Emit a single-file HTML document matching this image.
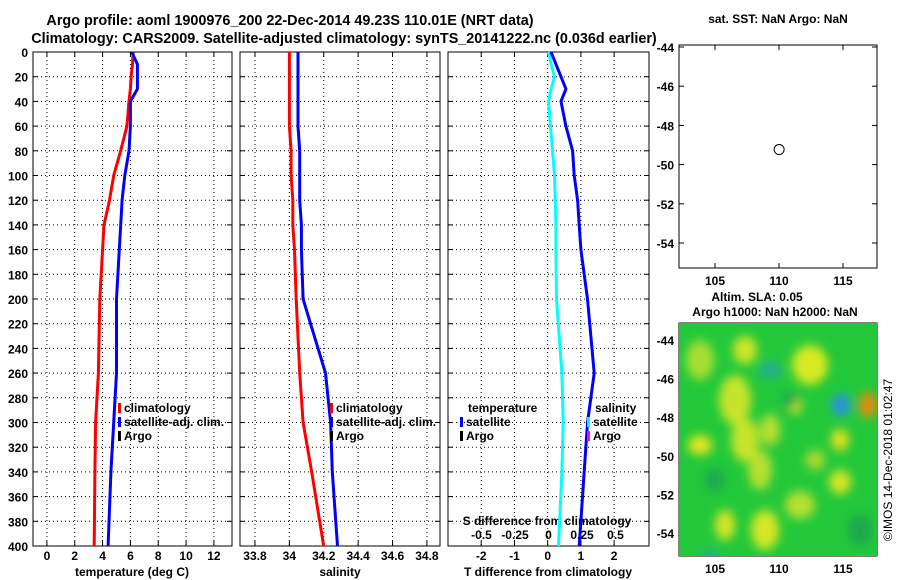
<!DOCTYPE html>
<html><head><meta charset="utf-8"><style>
body{margin:0;background:#fff}
svg{display:block;font-family:"Liberation Sans",sans-serif;font-weight:bold}
</style></head><body>
<svg id="c" width="900" height="580" viewBox="0 0 900 580">
<defs><filter id="bl" x="-50%" y="-50%" width="200%" height="200%"><feGaussianBlur stdDeviation="5"/></filter>
<clipPath id="mapclip"><rect x="679" y="323" width="198" height="233"/></clipPath></defs>
<text x="290" y="25" font-size="14.4" text-anchor="middle">Argo profile: aoml 1900976_200 22-Dec-2014 49.23S 110.01E (NRT data)</text>
<text x="344" y="43" font-size="14.4" text-anchor="middle">Climatology: CARS2009. Satellite-adjusted climatology: synTS_20141222.nc (0.036d earlier)</text>
<g id="g"></g>
<g clip-path="url(#mapclip)">
<rect x="679" y="323" width="198" height="233" fill="#22c83a"/>
<g filter="url(#bl)">
<ellipse cx="700" cy="360" rx="14" ry="20" fill="#a8de30"/>
<ellipse cx="745" cy="350" rx="12" ry="14" fill="#d0e628"/>
<ellipse cx="735" cy="400" rx="16" ry="25" fill="#c8e42a"/>
<ellipse cx="745" cy="440" rx="14" ry="22" fill="#c8e42a"/>
<ellipse cx="700" cy="445" rx="12" ry="10" fill="#e6e620"/>
<ellipse cx="770" cy="430" rx="10" ry="16" fill="#b8e030"/>
<ellipse cx="760" cy="470" rx="12" ry="20" fill="#b8e030"/>
<ellipse cx="810" cy="365" rx="18" ry="20" fill="#d8ea20"/>
<ellipse cx="795" cy="405" rx="7" ry="9" fill="#e0e020"/>
<ellipse cx="840" cy="440" rx="9" ry="11" fill="#e6e020"/>
<ellipse cx="840" cy="482" rx="11" ry="12" fill="#d8e628"/>
<ellipse cx="815" cy="460" rx="10" ry="10" fill="#a8dc30"/>
<ellipse cx="800" cy="505" rx="15" ry="14" fill="#b8e030"/>
<ellipse cx="765" cy="530" rx="14" ry="20" fill="#d8e628"/>
<ellipse cx="725" cy="525" rx="10" ry="15" fill="#d8e628"/>
<ellipse cx="770" cy="370" rx="12" ry="9" fill="#22b08a"/>
<ellipse cx="841" cy="405" rx="9" ry="11" fill="#2a90e8"/>
<ellipse cx="868" cy="405" rx="9" ry="13" fill="#e88a10"/>
<ellipse cx="710" cy="556" rx="9" ry="6" fill="#22b08a"/>
<ellipse cx="715" cy="480" rx="10" ry="12" fill="#1aa850"/>
<ellipse cx="860" cy="530" rx="12" ry="16" fill="#1aa850"/>
<ellipse cx="790" cy="400" rx="8" ry="8" fill="#1aa850"/>
</g></g>
<text x="778" y="23" font-size="12" text-anchor="middle">sat. SST: NaN Argo: NaN</text>
<text x="757" y="301" font-size="12" text-anchor="middle">Altim. SLA: 0.05</text>
<text x="775" y="316" font-size="12" text-anchor="middle">Argo h1000: NaN h2000: NaN</text>
<text transform="translate(892,460) rotate(-90)" font-size="12" font-weight="normal" text-anchor="middle">©IMOS 14-Dec-2018 01:02:47</text>
</svg>
<script>
const depths=[0,10,20,30,40,60,80,100,120,140,160,200,260,300,340,400];
const tClim=[6.2,6.15,6.05,6.0,5.9,5.75,5.3,4.8,4.5,4.1,4.0,3.8,3.7,3.5,3.45,3.4];
const tSat=[6.1,6.5,6.5,6.5,6.0,6.0,5.9,5.6,5.4,5.3,5.2,5.0,5.0,4.8,4.6,4.4];
const sClim=[34.0,34.0,34.0,34.0,34.0,34.0,34.01,34.01,34.02,34.02,34.03,34.04,34.06,34.08,34.13,34.2];
const sSat=[34.05,34.05,34.05,34.05,34.05,34.05,34.06,34.06,34.06,34.07,34.07,34.08,34.21,34.24,34.25,34.28];
const dT=[0.1,0.25,0.4,0.55,0.4,0.55,0.75,0.8,0.9,0.95,1.0,1.2,1.4,1.2,1.1,0.95];
const dS=[0,0.02,0.045,0.02,0,0.015,0.03,0.045,0.05,0.055,0.055,0.06,0.1,0.11,0.1,0.075];
const depthTicks=[0,20,40,60,80,100,120,140,160,180,200,220,240,260,280,300,320,340,360,380,400];
const tTicks=[0,2,4,6,8,10,12];
const sTicks=["33.8","34","34.2","34.4","34.6","34.8"];
const dTTicks=[-2,-1,0,1,2];
const dSTicks=["-0.5","-0.25","0","0.25","0.5"];
const lonTicks=[105,110,115];
const latTicks=[-44,-46,-48,-50,-52,-54];
const argoLon=110.01, argoLat=-49.23;

const NS='http://www.w3.org/2000/svg', G=document.getElementById('g');
function el(t,a,txt){const e=document.createElementNS(NS,t);for(const k in a)e.setAttribute(k,a[k]);if(txt!==undefined)e.textContent=txt;G.appendChild(e);return e;}
const Y0=52,Y1=546;
const yD=d=>Y0+(d/400)*(Y1-Y0);
function lin(d0,d1,r0,r1){return v=>r0+(v-d0)/(d1-d0)*(r1-r0);}
const panels=[
 {x0:33,x1:232,f:lin(-1,13.3,33,232)},
 {x0:240,x1:440,f:lin(33.713,34.876,240,440)},
 {x0:448,x1:649,f:lin(-3,3.05,448,649)}];
const fS3=lin(-0.75,0.75,448,649);
panels.forEach((p,i)=>{
 const fr=el('rect',{x:p.x0,y:Y0,width:p.x1-p.x0,height:Y1-Y0,fill:'none',stroke:'#000','stroke-width':1});
 
 depthTicks.forEach(d=>{
  const y=yD(d);
  const gl=el('line',{x1:p.x0,x2:p.x1,y1:y,y2:y,stroke:'#000','stroke-dasharray':'1,3'});
  
  el('line',{x1:p.x0,x2:p.x0+5,y1:y,y2:y,stroke:'#000'});
  el('line',{x1:p.x1-5,x2:p.x1,y1:y,y2:y,stroke:'#000'});
  if(i===0){const t=el('text',{x:28,y:y+5,'font-size':12,'text-anchor':'end'},d);
   }
 });
});
function vgrid(p,ticks,f,labelY){ticks.forEach(v=>{const x=f(+v);
 const gl=el('line',{x1:x,x2:x,y1:Y0,y2:Y1,stroke:'#000','stroke-dasharray':'1,3'});
 
 el('line',{x1:x,x2:x,y1:Y1-5,y2:Y1,stroke:'#000'});el('line',{x1:x,x2:x,y1:Y0,y2:Y0+5,stroke:'#000'});
 const t=el('text',{x:x,y:labelY,'font-size':12,'text-anchor':'middle'},v);
 });}
vgrid(panels[0],tTicks,panels[0].f,560);
vgrid(panels[1],sTicks,panels[1].f,560);
vgrid(panels[2],dTTicks,panels[2].f,560);
dSTicks.forEach(v=>{const t=el('text',{x:fS3(+v),y:539,'font-size':12,'text-anchor':'middle'},v);
 });
[['temperature (deg C)',132],['salinity',340],['T difference from climatology',548]].forEach(([s,x])=>{
 const t=el('text',{x:x,y:576,'font-size':12,'text-anchor':'middle'},s);
 });
const st=el('text',{x:547,y:525,'font-size':12,'text-anchor':'middle'},'S difference from climatology');

function line(vals,f,col,name){const pts=vals.map((v,k)=>f(v).toFixed(1)+','+yD(depths[k]).toFixed(1)).join(' ');
 const l=el('polyline',{points:pts,fill:'none',stroke:col,'stroke-width':3});
 }
line(tClim,panels[0].f,'#f00','temp-climatology-line');
line(tSat,panels[0].f,'#00f','temp-satellite-line');
line(sClim,panels[1].f,'#f00','sal-climatology-line');
line(sSat,panels[1].f,'#00f','sal-satellite-line');
line(dS,fS3,'#0ff','sal-diff-line');
line(dT,panels[2].f,'#00f','temp-diff-line');
function leg(x,y,col,txt){const r=el('rect',{x:x,y:y-9,width:3,height:10,fill:col});
 
 const t=el('text',{x:x+6,y:y,'font-size':12},txt);}
[[118,'#f00','climatology'],[118,'#00f','satellite-adj. clim.'],[118,'#000','Argo']].forEach((a,k)=>leg(a[0],412+k*14,a[1],a[2]));
[[330,'#f00','climatology'],[330,'#00f','satellite-adj. clim.'],[330,'#000','Argo']].forEach((a,k)=>leg(a[0],412+k*14,a[1],a[2]));
const tl=el('text',{x:468,y:412,'font-size':12},'temperature');
leg(460,426,'#00f','satellite');leg(460,440,'#000','Argo');
const sl=el('text',{x:595,y:412,'font-size':12},'salinity');
leg(587,426,'#0ff','satellite');leg(587,440,'#f0f','Argo');
const maps=[{y0:45,y1:268,fy:lin(-44,-54,47,243)},{y0:323,y1:556,fy:lin(-44,-54,340,533)}];
const fx=lin(105,115,715,843);
maps.forEach((m,i)=>{
 const fr=el('rect',{x:679,y:m.y0,width:198,height:m.y1-m.y0,fill:'none',stroke:'#000'});
 
 lonTicks.forEach(v=>{const x=fx(v);el('line',{x1:x,x2:x,y1:m.y1-5,y2:m.y1,stroke:'#000'});el('line',{x1:x,x2:x,y1:m.y0,y2:m.y0+5,stroke:'#000'});
  const t=el('text',{x:x,y:m.y1+17,'font-size':12,'text-anchor':'middle'},v);});
 latTicks.forEach(v=>{const y=m.fy(v);el('line',{x1:679,x2:684,y1:y,y2:y,stroke:'#000'});el('line',{x1:872,x2:877,y1:y,y2:y,stroke:'#000'});
  const t=el('text',{x:674,y:y+5,'font-size':12,'text-anchor':'end'},v);});
 const c=el('circle',{cx:fx(argoLon),cy:m.fy(argoLat),r:5,fill:'none',stroke:'#000'});
 
});
</script>
</body></html>
